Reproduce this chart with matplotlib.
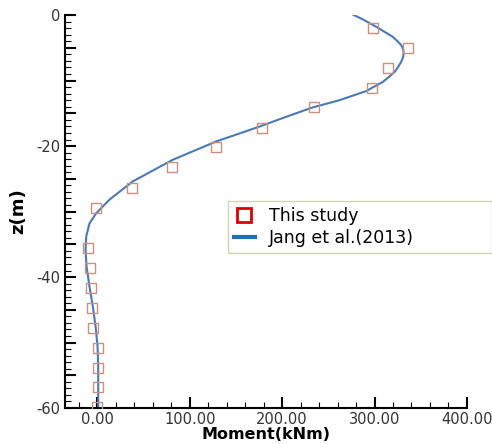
import matplotlib
matplotlib.use('Agg')
import matplotlib.pyplot as plt
from matplotlib.ticker import MultipleLocator, FuncFormatter
from matplotlib.lines import Line2D

# "This study" markers
z_study = [-2.0, -5.0, -8.1, -11.1, -14.0, -17.3, -20.2, -23.2, -26.4, -29.5,
           -35.6, -38.6, -41.7, -44.7, -47.8, -50.8, -53.9, -56.8, -59.8]
m_study = [298, 336, 315, 297, 234, 178, 128, 81, 38, -1,
           -10, -8, -6.5, -5.4, -4.3, 1, 1, 1, 0]

# Jang et al.(2013) curve
z_jang = [0.4, -0.7, -1.8, -3.3, -4.0, -4.6, -5.2, -5.85, -6.5, -7.1, -7.8, -8.65,
          -9.4, -10.2, -11.6, -13.0, -14.1, -15.5, -17.1, -19.3, -22.1, -25.4,
          -28.2, -30.3, -31.8, -33.8, -35.9, -38.4, -41.5, -44.5, -47.6, -50.6,
          -53.7, -60.0]
m_jang = [272, 288, 302, 319.6, 325, 329, 331, 331.5, 330.8, 329, 326, 322,
          316, 309, 291, 262, 233, 205, 174, 128.6, 81.6, 38.3,
          13, -1.4, -8.4, -12, -12.7, -11.6, -8.4, -4.8, -1.8, 0.3,
          1, 1]

fig = plt.figure(figsize=(4.92, 4.44), dpi=100)
ax = fig.add_axes([0.132, 0.081, 0.817, 0.885])

ax.plot(m_jang, z_jang, color='#4a7ab5', lw=1.5, zorder=2)
ax.plot(m_study, z_study, ls='none', marker='s', ms=7.5, mfc='none',
        mec='#c8907f', mew=1.0, zorder=3)

ax.set_xlim(-35, 400)
ax.set_ylim(-60, 0)
ax.spines['top'].set_visible(False)
ax.spines['right'].set_visible(False)
ax.spines['left'].set_linewidth(1.5)
ax.spines['bottom'].set_linewidth(1.5)

ax.xaxis.set_major_locator(MultipleLocator(100))
ax.xaxis.set_minor_locator(MultipleLocator(20))
ax.xaxis.set_major_formatter(FuncFormatter(lambda v, p: '%.2f' % v))
ax.yaxis.set_major_locator(MultipleLocator(5))
ax.yaxis.set_minor_locator(MultipleLocator(1))
ax.yaxis.set_major_formatter(FuncFormatter(lambda v, p: '%d' % v if v % 20 == 0 else ''))
ax.tick_params(which='major', direction='in', length=8, width=1.5, labelsize=10.5,
               colors='black', labelcolor='#333333')
ax.tick_params(which='minor', direction='in', length=4, width=0.8)
ax.tick_params(axis='x', pad=3)

ax.set_xlabel('Moment(kNm)', fontsize=11.5, fontweight='bold', labelpad=0)
ax.set_ylabel('z(m)', fontsize=13, fontweight='bold', labelpad=6)

handles = [Line2D([], [], ls='none', marker='s', ms=10, mfc='none', mec='#e00000', mew=2),
           Line2D([], [], color='#1f6fb5', lw=3)]
leg = ax.legend(handles, ['This study', 'Jang et al.(2013)'], loc='upper left',
                bbox_to_anchor=(0.405, 0.387, 0.657, 0.14), mode='expand',
                fontsize=12.5, frameon=True, fancybox=False, borderpad=0.35,
                labelspacing=0.25, handlelength=1.2, handletextpad=0.8,
                borderaxespad=0)
leg.get_frame().set_edgecolor('#c8c8a0')
leg.get_frame().set_linewidth(1.0)

fig.savefig('out.png', dpi=100)
